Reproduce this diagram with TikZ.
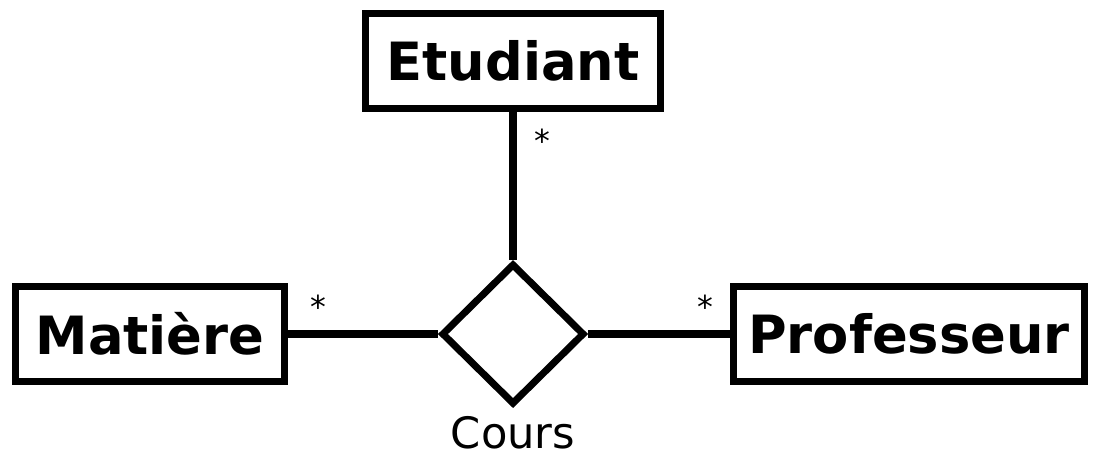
\documentclass[tikz,border=0pt]{standalone}
\usepackage{fontspec}
\setmainfont{DejaVu Sans}
\usetikzlibrary{shapes.geometric}

\begin{document}
\begin{tikzpicture}[line width=2pt,
  classe/.style={shape=rectangle,draw,minimum height=0.95cm,inner sep=0pt,
    font=\fontsize{15pt}{18pt}\selectfont\bfseries},
  assoc/.style={shape=diamond,draw,minimum width=1.43cm,minimum height=1.41cm,inner sep=0pt},
  mult/.style={font=\fontsize{9pt}{11pt}\selectfont}]
\useasboundingbox (0,0) rectangle (11,4.55);
\node (etudiant)   at (5.13,3.94) [classe,minimum width=2.95cm] {Etudiant};
\node (matiere)    at (1.50,1.21) [classe,minimum width=2.69cm] {Matière};
\node (professeur) at (9.09,1.21) [classe,minimum width=3.51cm] {Professeur};
\node (cours)      at (5.13,1.21) [assoc] {};
\node (nom)        at (5.13,0.22) [font=\fontsize{12.3pt}{15pt}\selectfont] {Cours};
\draw (etudiant) -- (cours.north);
\draw (matiere) -- (cours.west);
\draw (cours.east) -- (professeur);
\node (m1) at (5.42,3.14) [mult] {*};
\node (m2) at (3.18,1.48) [mult] {*};
\node (m3) at (7.05,1.48) [mult] {*};
\end{tikzpicture}
\end{document}
